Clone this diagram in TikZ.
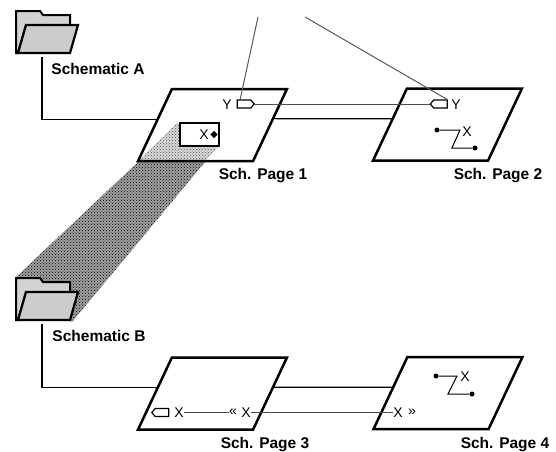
\documentclass[tikz,border=0pt]{standalone}
\usepackage{fontspec}
\setmainfont{Liberation Sans}
\usetikzlibrary{shapes.geometric,shapes.symbols,patterns}

\begin{document}
\begin{tikzpicture}[
    x=1pt, y=-1pt,
    page/.style={trapezium, draw, line width=2.5pt, trapezium stretches=true,
        trapezium left angle=68, trapezium right angle=112,
        minimum width=149pt, minimum height=72pt, inner sep=0pt, outer sep=0pt,
        execute at begin node=\phantom{X}},
    caption/.style={font=\fontsize{15.5}{16}\selectfont\bfseries, inner sep=0pt},
    sig/.style={font=\fontsize{14}{14}\selectfont, inner sep=0pt},
    port/.style={signal, draw, line width=1.2pt, inner sep=0pt, signal pointer angle=100,
        minimum width=17pt, minimum height=8pt},
    pin/.style={circle, fill, inner sep=0pt, minimum size=5pt},
    wire/.style={line width=1pt},
    hier/.style={line width=1.2pt},
    folder/.pic={
        \draw[line width=2pt, fill=gray!35] (16,53) -- (16,11) -- (40,11) -- (43,15) -- (70,15) -- (70,25) -- (26,25) -- (18,53) -- cycle;
        \draw[line width=2.2pt, fill=gray!40] (26,25) -- (78,25) -- (70,53) -- (18,53) -- cycle;
        \coordinate (-base) at (42,57);
    }
]
\useasboundingbox (0,0) rectangle (556,451);

% hierarchy band
\fill[gray!75] (138,162) -- (205,162) -- (72,322) -- (16,277) -- cycle;
\fill[pattern=crosshatch dots, pattern color=black] (138,162) -- (205,162) -- (72,322) -- (16,277) -- cycle;
\fill[gray!30] (177,123) -- (219,146) -- (206,160) -- (139,160) -- cycle;
\fill[pattern=crosshatch dots, pattern color=black!70] (177,123) -- (219,146) -- (206,160) -- (139,160) -- cycle;

\pic (folderA) at (0,0) {folder};
\pic (folderB) at (0,267) {folder};

\node[page] (page1) at (212.5,125) {};
\node[page] (page2) at (447.5,124.5) {};
\node[page] (page3) at (212.5,393.5) {};
\node[page] (page4) at (448,393) {};

\node[caption] (nameA) at (98,69) {Schematic A};
\node[caption] (nameB) at (99,336) {Schematic B};
\node[caption] (name1) at (263,176) {Sch. Page 1};
\node[caption] (name2) at (498,176) {Sch. Page 2};
\node[caption] (name3) at (265,444.5) {Sch. Page 3};
\node[caption] (name4) at (505,444.5) {Sch. Page 4};

\draw[hier] (folderA-base) |- (page1.174);
\draw[hier] (folderB-base) |- (page3.174);
\draw[hier] (page1.6) -- (page2.174);
\draw[hier] (page3.6) -- (page4.174);

% page 1
\node[draw, line width=1.4pt, fill=white, minimum width=39pt, minimum height=23pt, inner sep=0pt] (popup) at (199.5,134.5) {};
\node[sig] (x1) at (204,135) {X};
\node[diamond, fill, inner sep=0pt, minimum size=7.5pt] (x1pin) at (214,134.5) {};
\node[sig] (y1) at (227,105) {Y};
\node[port, signal to=east] (port1) at (244,104) {};

% page 2
\node[port, signal to=west] (port2) at (440.5,104) {};
\node[sig] (y2) at (456,105) {Y};
\node[pin] (a2) at (437,130) {};
\coordinate (b2) at (460,130);
\coordinate (c2) at (452,148);
\node[pin] (d2) at (475,148) {};
\node[sig] (x2) at (467,132) {X};
\draw[wire] (a2) -- (b2) -- (c2) -- (d2);
\draw[wire, gray!60!black] (port1) -- (port2);

% page 3
\node[port, signal to=west] (port3) at (162,412.5) {};
\node[sig] (x3) at (179,412.5) {X};
\node[sig] (ml3) at (233,412.5) {«};
\node[sig] (x3b) at (246,412.5) {X};
\draw[wire, gray!60!black] (x3) -- (ml3);

% page 4
\node[sig] (x4) at (398,412.5) {X};
\node[sig] (mr4) at (412,412.5) {»};
\draw[wire, gray!60!black] (x3b) -- (x4);
\node[pin] (a4) at (436,376) {};
\coordinate (b4) at (457,376);
\coordinate (c4) at (448,394);
\node[pin] (d4) at (472,394) {};
\node[sig] (x4b) at (465,377) {X};
\draw[wire] (a4) -- (b4) -- (c4) -- (d4);

% leaders going off the top
\coordinate (leadL) at (258,17);
\coordinate (leadR) at (305,17);
\draw[wire, gray!70!black] (leadL) -- (port1.130);
\draw[wire, gray!70!black] (leadR) -- (port2.35);

\end{tikzpicture}
\end{document}
